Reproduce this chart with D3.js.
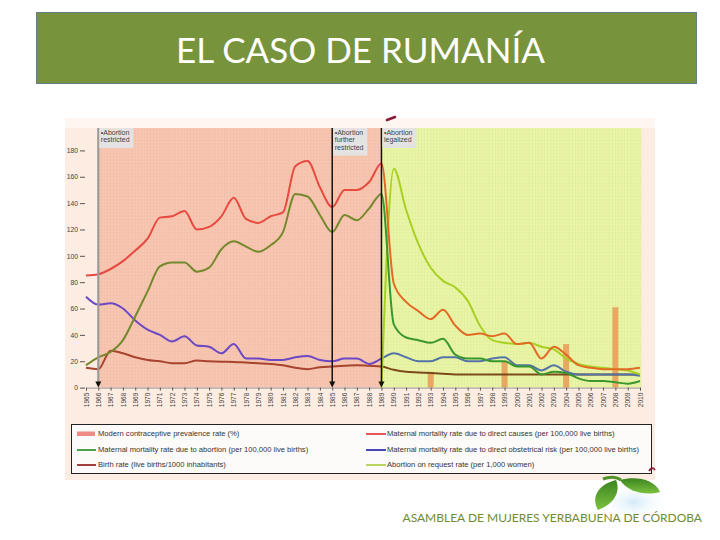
<!DOCTYPE html>
<html><head><meta charset="utf-8">
<script src="https://cdn.jsdelivr.net/npm/d3@7"></script>
<style>body{margin:0;background:#fff}svg{display:block}</style>
</head><body>
<svg id="c" width="720" height="540"></svg>
<script>
// ---------- DATA ----------
const years = [1965,1966,1967,1968,1969,1970,1971,1972,1973,1974,1975,1976,1977,1978,1979,1980,1981,1982,1983,1984,1985,1986,1987,1988,1989,1990,1991,1992,1993,1994,1995,1996,1997,1998,1999,2000,2001,2002,2003,2004,2005,2006,2007,2008,2009,2010];
const mmrDirect = [85,86,90,96,104,113,129,130,134,120,122,130,144,128,125,130,133,168,172,152,137,150,150,156,170,79,65,58,52,59,47,40,41,39,41,33,34,22,31,25,17,15,14,14,14,15];
const mmrAbortion = [17,23,27,36,54,73,92,95,95,88,91,105,111,107,103,108,118,147,145,131,118,131,127,136,147,48,38,36,34,37,25,22,22,20,20,16,16,10,12,11,7,5,5,4,3,5];
const mmrObstetric = [69,63,64,60,51,44,40,35,39,32,31,26,33,22,22,21,21,23,24,21,20,22,22,18,22,26,23,20,20,23,23,20,20,22,23,17,17,13,17,12,10,10,10,10,10,9];
const birthRate = [15,14,28,26,23,21,20,18.5,18.5,20.5,20,19.7,19.5,19,18.5,18,17,15,14,15.5,16,16.5,17,16.5,16,13.5,12,11.5,11,10.5,10,10,10,10,10,10,10,10,10,10,10,10,10,10,10,10];
const abortionYears = [1989,1990,1991,1992,1993,1994,1995,1996,1997,1998,1999,2000,2001,2002,2003,2004,2005,2006,2007,2008,2009,2010];
const abortionRate = [0,166,135,109,91,81,76,66,47,36,34,33,34,31,29,22,18,16,15,14,13,10];
const contraYears = [1993,1999,2004,2008];
const contraRate = [12,20,33,61];
const yTicks = [0,20,40,60,80,100,120,140,160,180];
const events = [
  {year:1966, lines:["•Abortion","restricted"], color:"#9a9a9a"},
  {year:1985, lines:["•Abortion","further","restricted"], color:"#111"},
  {year:1989, lines:["•Abortion","legalized"], color:"#111"}
];
const legendLeft = [
  {label:"Modern contraceptive prevalence rate (%)", type:"rect", color:"#f08a84"},
  {label:"Maternal mortality rate due to abortion (per 100,000 live births)", type:"line", color:"#1e8a1e"},
  {label:"Birth rate (live births/1000 inhabitants)", type:"line", color:"#8a1010"}
];
const legendRight = [
  {label:"Maternal mortality rate due to direct causes (per 100,000 live births)", color:"#e02a2a"},
  {label:"Maternal mortality rate due to direct obstetrical risk (per 100,000 live births)", color:"#1a1aa8"},
  {label:"Abortion on request rate (per 1,000 women)", color:"#a6cc38"}
];

// ---------- DRAW ----------
const svg = d3.select("#c");
const font = "'Liberation Sans', Arial, sans-serif";

// title box
svg.append("rect").attr("x",36.5).attr("y",12.5).attr("width",660).attr("height",71)
  .attr("fill","#77933c").attr("stroke","#66808a").attr("stroke-width",1);
svg.append("text").attr("x",360.5).attr("y",63).attr("text-anchor","middle")
  .attr("font-family","Lato, 'Open Sans', sans-serif").attr("font-size",35)
  .attr("fill","#fff").text("EL CASO DE RUMANÍA");

// chart image background
svg.append("rect").attr("x",65).attr("y",118).attr("width",590).attr("height",362).attr("fill","#fcece2");
svg.append("rect").attr("x",65).attr("y",118).attr("width",590).attr("height",10).attr("fill","#fdf6f1");

const x = d3.scaleLinear().domain([1965,2010]).range([86,640]);
const y = d3.scaleLinear().domain([0,180]).range([387.6,150.4]);
const pTop = 128, pBottom = y(0);
const xSplit = x(1989), xStart = x(1966), xEnd = x(2010)+1.5;

// plot areas
svg.append("rect").attr("x",xStart).attr("y",pTop).attr("width",xSplit-xStart).attr("height",pBottom-pTop).attr("fill","#f9c7b1");
svg.append("rect").attr("x",xSplit).attr("y",pTop).attr("width",xEnd-xSplit).attr("height",pBottom-pTop).attr("fill","#eaf6a6");

// fine grid
const grid = svg.append("g").attr("stroke","#000").attr("stroke-opacity",0.035).attr("stroke-width",0.7);
for (let v = 1966; v <= 2010.01; v += 0.25) {
  grid.append("line").attr("x1",x(v)).attr("x2",x(v)).attr("y1",pTop).attr("y2",pBottom);
}
for (let v = 0; y(v) >= pTop; v += 2.5) {
  grid.append("line").attr("x1",xStart).attr("x2",xEnd).attr("y1",y(v)).attr("y2",y(v));
}

// clip paths
const defs = svg.append("defs");
defs.append("clipPath").attr("id","clipL").append("rect").attr("x",0).attr("y",0).attr("width",xSplit).attr("height",540);
defs.append("clipPath").attr("id","clipR").append("rect").attr("x",xSplit).attr("y",0).attr("width",720-xSplit).attr("height",540);

// bars
const bw = 6;
svg.append("g").selectAll("rect").data(contraYears).join("rect")
  .attr("x",(d)=>x(d)-bw/2).attr("y",(d,i)=>y(contraRate[i]))
  .attr("width",bw).attr("height",(d,i)=>pBottom-y(contraRate[i]))
  .attr("fill","#e8a862");

// lines
const lineGen = d3.line().x(d=>x(d[0])).y(d=>y(d[1])).curve(d3.curveMonotoneX);
const series = [
  {ys:years, vs:birthRate, cL:"#a8442e", cR:"#7a4a1a"},
  {ys:years, vs:mmrObstetric, cL:"#6c48c4", cR:"#5474a8"},
  {ys:abortionYears, vs:abortionRate, cL:"#aad21e", cR:"#a8d024"},
  {ys:years, vs:mmrAbortion, cL:"#74882c", cR:"#3a962e"},
  {ys:years, vs:mmrDirect, cL:"#e64a40", cR:"#e26a26"}
];
series.forEach(s=>{
  const pts = s.ys.map((yr,i)=>[yr, s.vs[i]]);
  svg.append("path").attr("d",lineGen(pts)).attr("fill","none").attr("stroke",s.cL)
    .attr("stroke-width",2).attr("clip-path","url(#clipL)");
  svg.append("path").attr("d",lineGen(pts)).attr("fill","none").attr("stroke",s.cR)
    .attr("stroke-width",2).attr("clip-path","url(#clipR)");
});

// event markers
events.forEach((e,i)=>{
  const ex = x(e.year);
  svg.append("line").attr("x1",ex).attr("x2",ex).attr("y1",pTop).attr("y2",pBottom-5)
    .attr("stroke",e.color).attr("stroke-width", i===0?2.2:1.5);
  svg.append("path").attr("d",`M${ex-3},${pBottom-6}L${ex+3},${pBottom-6}L${ex},${pBottom}Z`).attr("fill","#111");
  const h = e.lines.length*7.5+5;
  svg.append("rect").attr("x",ex+1).attr("y",pTop).attr("width",34).attr("height",h).attr("fill","#e3e3e3");
  e.lines.forEach((t,j)=>{
    svg.append("text").attr("x",ex+2.5).attr("y",pTop+6.5+j*7.5).attr("font-family",font)
      .attr("font-size",7).attr("fill","#444").text(t);
  });
});

// y axis
const yAx = svg.append("g").attr("transform","translate(85,0)")
  .call(d3.axisLeft(y).tickValues(yTicks).tickSize(5).tickPadding(2).tickFormat(d3.format("d")));
yAx.select(".domain").remove();
yAx.selectAll("line").attr("stroke","#555");
yAx.selectAll("text").attr("font-family",font).attr("font-size",6.8).attr("fill","#444");

// x axis
const xAx = svg.append("g").attr("transform",`translate(0,${pBottom})`)
  .call(d3.axisBottom(x).tickValues(years).tickSize(3).tickFormat(d3.format("d")));
xAx.select(".domain").attr("stroke","#999");
xAx.selectAll("line").attr("stroke","#555");
xAx.selectAll("text").attr("font-family",font).attr("font-size",6.6).attr("fill","#444")
  .attr("text-anchor","end").attr("transform","rotate(-90)").attr("x",-5).attr("y",0).attr("dy","0.32em");

// legend
svg.append("rect").attr("x",71.5).attr("y",424.5).attr("width",580).attr("height",49)
  .attr("fill","#fdfbf9").attr("stroke","#222").attr("stroke-width",1);
const rowsY = [434, 450, 465];
legendLeft.forEach((d,i)=>{
  if (d.type==="rect") svg.append("rect").attr("x",77).attr("y",rowsY[i]-2.5).attr("width",18).attr("height",4.5).attr("fill",d.color);
  else svg.append("line").attr("x1",77).attr("x2",96).attr("y1",rowsY[i]).attr("y2",rowsY[i]).attr("stroke",d.color).attr("stroke-width",1.6);
  svg.append("text").attr("x",98).attr("y",rowsY[i]+2.4).attr("font-family",font).attr("font-size",7.6).attr("fill","#333").text(d.label);
});
legendRight.forEach((d,i)=>{
  svg.append("line").attr("x1",366).attr("x2",386).attr("y1",rowsY[i]).attr("y2",rowsY[i]).attr("stroke",d.color).attr("stroke-width",1.6);
  svg.append("text").attr("x",387).attr("y",rowsY[i]+2.4).attr("font-family",font).attr("font-size",7.6).attr("fill","#333").text(d.label);
});

// decorative marks
svg.append("path").attr("d","M387,120 L395,117").attr("stroke","#8a1a3a").attr("stroke-width",2.6).attr("stroke-linecap","round").attr("fill","none");
svg.append("path").attr("d","M649,471 Q652,466 655,470").attr("stroke","#8a1a3a").attr("stroke-width",1.8).attr("fill","none");

// leaves
const glow = defs.append("radialGradient").attr("id","glow");
glow.append("stop").attr("offset","0%").attr("stop-color","#d4eaf8");
glow.append("stop").attr("offset","100%").attr("stop-color","#ffffff").attr("stop-opacity",0);
svg.append("ellipse").attr("cx",634).attr("cy",502).attr("rx",36).attr("ry",20).attr("fill","url(#glow)");
const leafG = defs.append("linearGradient").attr("id","leaf").attr("x1",0).attr("y1",0).attr("x2",0).attr("y2",1);
leafG.append("stop").attr("offset","0%").attr("stop-color","#3b8420");
leafG.append("stop").attr("offset","100%").attr("stop-color","#7cc23e");
svg.append("path").attr("d","M616,480 C597,485 591,498 598,510 C614,504 621,492 616,480Z").attr("fill","url(#leaf)");
svg.append("path").attr("d","M620,480 C636,476 654,479 660,492 C645,496 628,492 620,480Z").attr("fill","url(#leaf)");
svg.append("path").attr("d","M603,479 C610,476 617,477 621,480").attr("stroke","#4f922a").attr("stroke-width",3).attr("fill","none");

// footer
svg.append("text").attr("x",702).attr("y",522).attr("text-anchor","end")
  .attr("font-family","Lato, 'Open Sans', sans-serif").attr("font-size",12)
  .attr("fill","#6f8c2e").text("ASAMBLEA DE MUJERES YERBABUENA DE CÓRDOBA");
</script>
</body></html>
